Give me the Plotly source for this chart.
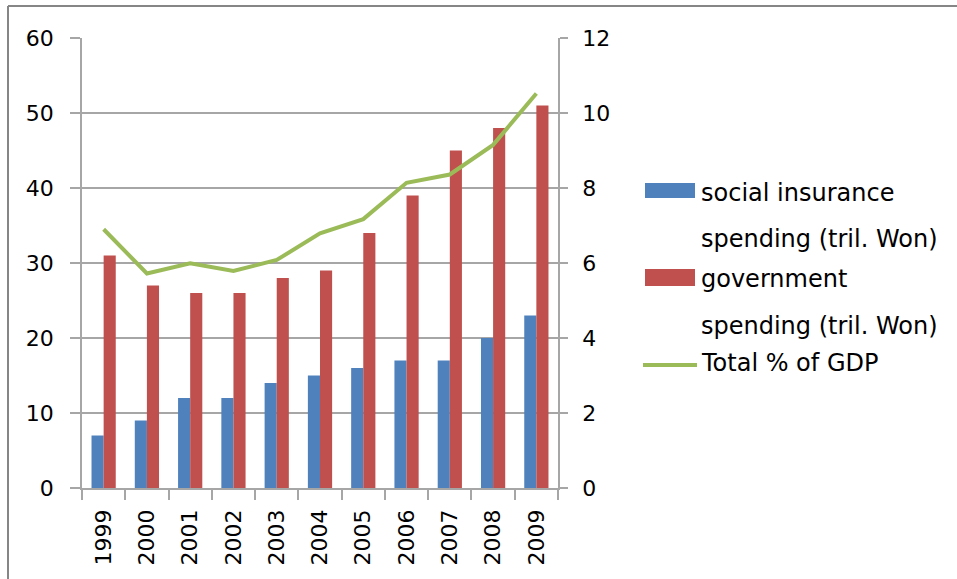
import plotly.graph_objects as go

years = ["1999", "2000", "2001", "2002", "2003", "2004", "2005", "2006", "2007", "2008", "2009"]
social_insurance = [7, 9, 12, 12, 14, 15, 16, 17, 17, 20, 23]
government = [31, 27, 26, 26, 28, 29, 34, 39, 45, 48, 51]
total_pct_gdp = [6.9, 5.72, 5.99, 5.79, 6.08, 6.79, 7.17, 8.14, 8.36, 9.15, 10.52]

BLUE = "#4F81BD"
RED = "#C0504D"
GREEN = "#9BBB59"
GRID = "#A6A6A6"
FONT = "DejaVu Sans"
FS = 22
LEG_FS = 24

fig = go.Figure()
fig.add_trace(go.Bar(x=years, y=social_insurance, name="social insurance spending (tril. Won)",
                     marker=dict(color=BLUE, line=dict(width=0))))
fig.add_trace(go.Bar(x=years, y=government, name="government spending (tril. Won)",
                     marker=dict(color=RED, line=dict(width=0))))
fig.add_trace(go.Scatter(x=years, y=total_pct_gdp, name="Total % of GDP", yaxis="y2",
                         mode="lines", line=dict(color=GREEN, width=4)))

# plot area in pixels
W, H = 957, 579
L, R, T, B = 82, 558, 38, 488
pw, ph = R - L, B - T

def px(x):
    return (x - L) / pw

def py(y):
    return (B - y) / ph

shapes = [
    # frame
    dict(type="line", xref="paper", yref="paper", x0=px(8), x1=px(960), y0=py(6), y1=py(6),
         line=dict(color="#868686", width=2)),
    dict(type="line", xref="paper", yref="paper", x0=px(8), x1=px(8), y0=py(6), y1=py(582),
         line=dict(color="#868686", width=2)),
    # legend swatches
    dict(type="rect", xref="paper", yref="paper", x0=px(645), x1=px(695), y0=py(198), y1=py(183),
         fillcolor=BLUE, line=dict(width=0)),
    dict(type="rect", xref="paper", yref="paper", x0=px(645), x1=px(695), y0=py(286), y1=py(269),
         fillcolor=RED, line=dict(width=0)),
    dict(type="line", xref="paper", yref="paper", x0=px(643), x1=px(697), y0=py(365), y1=py(365),
         line=dict(color=GREEN, width=4)),
]

legend_lines = [
    ("social insurance", 192.5),
    ("spending (tril. Won)", 239),
    ("government", 279),
    ("spending (tril. Won)", 326),
    ("Total % of GDP", 363),
]
annotations = [
    dict(text=t, xref="paper", yref="paper", x=px(699), y=py(yy), xanchor="left", yanchor="middle",
         showarrow=False, font=dict(family=FONT, size=LEG_FS, color="#000000"))
    for t, yy in legend_lines
]

fig.update_layout(
    width=W, height=H,
    margin=dict(l=L, r=W - R, t=T, b=H - B, pad=0),
    paper_bgcolor="white", plot_bgcolor="white",
    barmode="group", bargap=0.44, bargroupgap=0,
    showlegend=False,
    font=dict(family=FONT, size=FS, color="#000000"),
    shapes=shapes, annotations=annotations,
    xaxis=dict(type="category", showgrid=False, showline=True, linecolor=GRID, linewidth=1.5,
               ticks="outside", tickson="boundaries", ticklen=10, tickcolor=GRID, tickwidth=1.5,
               tickangle=-90, ticklabelstandoff=11, zeroline=False),
    yaxis=dict(range=[0, 60], dtick=10, showgrid=True, gridcolor=GRID, gridwidth=1.5,
               showline=True, linecolor=GRID, linewidth=1.5, ticks="outside", ticklen=10,
               tickcolor=GRID, tickwidth=1.5, ticklabelstandoff=12, zeroline=False),
    yaxis2=dict(range=[0, 12], dtick=2, overlaying="y", side="right", showgrid=False,
                showline=True, linecolor=GRID, linewidth=1.5, ticks="outside", ticklen=8,
                tickcolor=GRID, tickwidth=1.5, ticklabelstandoff=10, zeroline=False),
)

fig.write_html("out.html")
